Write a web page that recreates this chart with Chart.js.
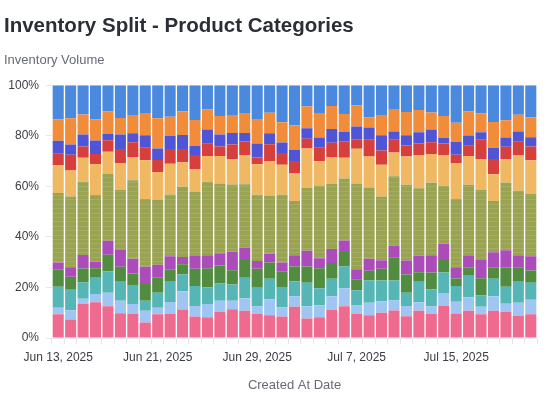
<!DOCTYPE html>
<html>
<head>
<meta charset="utf-8">
<title>Inventory Split - Product Categories</title>
<script src="https://cdn.jsdelivr.net/npm/chart.js@4.4.1/dist/chart.umd.min.js"></script>
<style>
  html, body { margin: 0; padding: 0; background: #fff; }
  #wrap { width: 546px; height: 404px; position: relative; }
</style>
</head>
<body>
<div id="wrap"><canvas id="chart"></canvas></div>
<script>
const dates = [
    'Jun 13, 2025', 'Jun 14, 2025', 'Jun 15, 2025', 'Jun 16, 2025', 'Jun 17, 2025', 'Jun 18, 2025',
    'Jun 19, 2025', 'Jun 20, 2025', 'Jun 21, 2025', 'Jun 22, 2025', 'Jun 23, 2025', 'Jun 24, 2025',
    'Jun 25, 2025', 'Jun 26, 2025', 'Jun 27, 2025', 'Jun 28, 2025', 'Jun 29, 2025', 'Jun 30, 2025',
    'Jul 1, 2025', 'Jul 2, 2025', 'Jul 3, 2025', 'Jul 4, 2025', 'Jul 5, 2025', 'Jul 6, 2025',
    'Jul 7, 2025', 'Jul 8, 2025', 'Jul 9, 2025', 'Jul 10, 2025', 'Jul 11, 2025', 'Jul 12, 2025',
    'Jul 13, 2025', 'Jul 14, 2025', 'Jul 15, 2025', 'Jul 16, 2025', 'Jul 17, 2025', 'Jul 18, 2025',
    'Jul 19, 2025', 'Jul 20, 2025', 'Jul 21, 2025'
];

// share of inventory volume per category, in percent (bottom to top)
const catA = [9.4,7.3,13.5,14.1,12.6,9.8,9.6,6.1,9.4,9.6,11.3,8.5,8.2,10.4,11.4,10.8,9.6,9.0,8.5,12.4,7.7,8.2,11.2,12.6,9.6,9.0,10.0,10.9,8.6,10.8,9.6,12.7,9.7,10.8,9.4,10.8,10.4,8.8,9.4];
const catB = [2.6,3.7,2.0,3.3,5.3,4.9,3.8,4.7,2.6,4.6,7.2,4.2,5.2,4.3,3.3,4.9,2.9,6.3,3.7,4.1,4.9,4.8,5.3,7.1,3.3,4.9,4.5,4.0,4.1,3.3,2.9,5.1,4.6,5.3,3.0,5.7,3.1,5.1,5.7];
const catC = [8.3,8.1,6.5,6.4,8.5,7.6,7.6,3.9,5.9,8.1,6.6,7.9,6.7,6.9,6.5,8.1,7.4,8.1,8.0,5.9,9.3,6.7,6.9,8.6,6.0,8.8,8.2,7.8,5.2,8.2,6.8,8.1,6.3,8.5,4.5,6.9,6.8,8.4,6.8];
const catD = [6.7,5.1,5.5,3.8,6.5,5.9,4.5,6.7,5.9,4.9,4.1,6.8,7.5,7.1,5.6,7.1,7.5,6.5,6.0,5.9,6.4,7.9,6.3,5.7,4.3,3.9,4.7,9.2,7.2,3.7,6.6,5.0,2.9,3.2,6.7,4.4,7.6,5.7,4.8];
const catE = [2.9,3.8,5.3,2.7,5.6,6.6,5.8,6.8,5.2,5.1,2.8,5.0,5.1,4.8,7.3,4.8,3.1,3.4,3.7,4.4,6.2,3.9,5.5,4.6,4.0,4.7,3.4,4.6,5.6,6.5,6.8,6.4,4.5,4.9,7.3,6.1,6.8,4.7,5.6];
const catF = [27.5,28.0,29.0,26.3,26.6,23.8,31.1,26.8,25.8,24.5,27.8,25.4,29.1,27.6,26.6,25.1,26.2,23.1,26.8,21.5,24.9,28.8,25.8,24.5,33.9,28.2,25.2,27.5,29.9,26.7,28.8,22.9,27.0,27.9,27.7,20.3,26.8,25.5,24.7];
const catG = [10.9,10.3,9.5,12.2,8.6,10.5,9.2,15.3,10.9,12.1,9.7,9.1,10.2,10.9,10.1,11.6,12.0,13.6,11.8,10.9,15.6,9.6,10.6,8.2,13.8,12.3,12.5,9.4,11.2,13.2,11.3,12.2,14.2,11.4,12.1,10.6,9.2,14.0,13.3];
const catH = [4.6,6.2,4.5,4.0,4.5,5.7,5.8,5.0,4.7,5.9,5.3,5.5,4.8,3.8,5.7,5.3,2.7,6.6,4.7,4.9,3.8,5.4,5.6,6.5,3.7,6.6,5.7,5.0,4.3,4.5,4.6,4.5,3.3,4.0,7.7,6.0,5.0,5.4,5.5];
const catI = [5.1,4.0,4.7,5.3,2.5,5.7,3.6,4.9,4.6,5.1,5.5,3.6,5.7,4.7,4.6,3.4,5.5,4.4,4.1,4.4,4.2,4.0,5.5,3.7,5.1,4.9,6.0,3.3,4.1,4.5,5.1,2.3,5.1,4.1,3.0,4.5,3.6,4.1,3.6];
const catJ = [8.5,10.4,7.9,8.4,8.9,6.5,7.2,8.8,11.9,7.6,9.3,10.2,7.9,7.3,7.1,7.9,9.7,8.1,8.0,9.8,8.6,9.4,9.1,7.1,8.3,4.0,8.0,8.6,9.2,8.8,6.7,8.6,7.5,9.5,7.4,10.1,6.8,6.6,7.9];
const catK = [13.5,13.1,11.6,13.5,10.4,13.0,11.8,11.0,13.1,12.5,10.4,13.8,9.6,12.2,11.8,11.0,13.4,10.9,14.7,15.8,8.4,11.3,8.2,11.4,8.0,12.7,11.8,9.7,10.6,9.8,10.8,12.2,14.9,10.4,11.2,14.6,13.9,11.7,12.7];

const yTicks = [0, 20, 40, 60, 80, 100];
const labelEvery = 8;

const FONT = "'Helvetica Neue', Helvetica, Arial, 'Liberation Sans', sans-serif";

// faint horizontal stripes on the big olive block
function stripes(base, line) {
    const c = document.createElement('canvas');
    c.width = 4;
    c.height = 22;
    const g = c.getContext('2d');
    g.fillStyle = base;
    g.fillRect(0, 0, 4, 22);
    g.fillStyle = line;
    [1, 6, 10, 15, 19].forEach(y => g.fillRect(0, y, 4, 1));
    return g.createPattern(c, 'repeat');
}

const series = [
    { label: 'Category A', data: catA, color: '#ef6a8f' },
    { label: 'Category B', data: catB, color: '#9fc5f3' },
    { label: 'Category C', data: catC, color: '#56b6b6' },
    { label: 'Category D', data: catD, color: '#528c40' },
    { label: 'Category E', data: catE, color: '#ab4cba' },
    { label: 'Category F', data: catF, color: stripes('#9aa352', '#a5ac64') },
    { label: 'Category G', data: catG, color: '#f0b862' },
    { label: 'Category H', data: catH, color: '#d63f3b' },
    { label: 'Category I', data: catI, color: '#5055d6' },
    { label: 'Category J', data: catJ, color: '#f08c3a' },
    { label: 'Category K', data: catK, color: '#4a89dd' }
];

const chart = new Chart(document.getElementById('chart'), {
    type: 'bar',
    data: {
        labels: dates,
        datasets: series.map(s => ({
            label: s.label,
            data: s.data,
            backgroundColor: s.color,
            borderWidth: 0,
            barPercentage: 0.89,
            categoryPercentage: 1
        }))
    },
    options: {
        responsive: true,
        maintainAspectRatio: false,
        animation: false,
        layout: { padding: { left: 4, right: 9, top: 0, bottom: 0 } },
        plugins: {
            legend: { display: false },
            tooltip: { enabled: false },
            title: {
                display: true,
                text: 'Inventory Split - Product Categories',
                align: 'start',
                color: '#2b2e36',
                font: { family: FONT, size: 20.5, weight: 'bold' },
                padding: { top: 14, bottom: 14 }
            },
            subtitle: {
                display: true,
                text: 'Inventory Volume',
                align: 'start',
                color: '#666b77',
                font: { family: FONT, size: 13 },
                padding: { top: 0, bottom: 17 }
            }
        },
        scales: {
            x: {
                stacked: true,
                grid: { display: true, drawOnChartArea: false, drawTicks: true, tickLength: 6, color: '#e5e7eb' },
                border: { display: true, color: '#e5e7eb' },
                ticks: {
                    autoSkip: false,
                    maxRotation: 0,
                    padding: 6,
                    color: '#3a3d44',
                    font: { family: FONT, size: 12 },
                    callback: (v, i) => (i % labelEvery === 0 ? dates[i] : '')
                },
                title: {
                    display: true,
                    text: 'Created At Date',
                    color: '#666b77',
                    font: { family: FONT, size: 13 },
                    padding: { top: 7, bottom: 11 }
                }
            },
            y: {
                stacked: true,
                min: 0,
                max: 100,
                afterFit: scale => { scale.width = 48; },
                afterBuildTicks: scale => { scale.ticks = yTicks.map(v => ({ value: v })); },
                grid: { display: true, drawOnChartArea: false, drawTicks: true, tickLength: 6, color: '#e5e7eb' },
                border: { display: false },
                ticks: {
                    padding: 7,
                    color: '#3a3d44',
                    font: { family: FONT, size: 12 },
                    callback: v => v + '%'
                }
            }
        }
    }
});
</script>
</body>
</html>
